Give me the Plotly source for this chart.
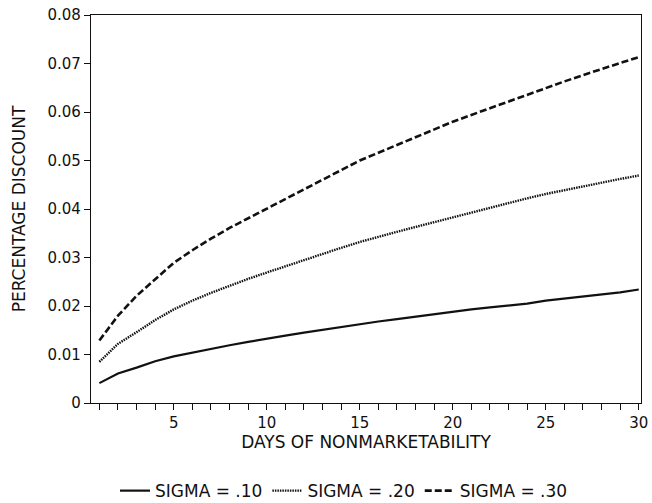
import plotly.graph_objects as go

days = list(range(1, 31))
sigma_10 = [0.0041, 0.0061, 0.0073, 0.0086, 0.0096, 0.0104, 0.0112, 0.0119, 0.0126, 0.0133,
            0.0139, 0.0145, 0.0151, 0.0157, 0.0163, 0.0168, 0.0173, 0.0178, 0.0183, 0.0189,
            0.0193, 0.0197, 0.0201, 0.0205, 0.0211, 0.0215, 0.0219, 0.0223, 0.0228, 0.0234]
sigma_20 = [0.0085, 0.0122, 0.0146, 0.0171, 0.0193, 0.0211, 0.0227, 0.0242, 0.0256, 0.0269,
            0.0282, 0.0295, 0.0308, 0.0320, 0.0332, 0.0343, 0.0353, 0.0363, 0.0373, 0.0383,
            0.0393, 0.0403, 0.0412, 0.0422, 0.0431, 0.0439, 0.0447, 0.0454, 0.0462, 0.0469]
sigma_30 = [0.0129, 0.0180, 0.0221, 0.0256, 0.0289, 0.0315, 0.0339, 0.0361, 0.0381, 0.0400,
            0.0421, 0.0441, 0.0461, 0.0481, 0.0500, 0.0516, 0.0532, 0.0548, 0.0564, 0.0580,
            0.0594, 0.0608, 0.0622, 0.0636, 0.0650, 0.0663, 0.0676, 0.0689, 0.0701, 0.0713]
series_names = ["SIGMA = .10", "SIGMA = .20", "SIGMA = .30"]
y_ticks = [0, 0.01, 0.02, 0.03, 0.04, 0.05, 0.06, 0.07, 0.08]
y_labels = ["0", "0.01", "0.02", "0.03", "0.04", "0.05", "0.06", "0.07", "0.08"]
x_labels = [str(d) if d % 5 == 0 else "" for d in days]

FONT = "DejaVu Sans"
INK = "#111111"
fig = go.Figure()
styles = [dict(dash="solid", width=2.2), dict(dash="1.5px,1px", width=2.4), dict(dash="7px,3px", width=2.6)]
for name, vals, st in zip(series_names, [sigma_10, sigma_20, sigma_30], styles):
    fig.add_trace(go.Scatter(x=days, y=vals, mode="lines", name=name,
                             line=dict(color=INK, **st)))

fig.update_layout(
    width=652, height=503,
    margin=dict(l=91, r=11, t=15, b=100, autoexpand=False),
    paper_bgcolor="white", plot_bgcolor="white",
    font=dict(family=FONT, size=15, color=INK),
    showlegend=True,
    legend=dict(orientation="h", x=0.46, xanchor="center", y=-0.227, yanchor="middle",
                font=dict(family=FONT, size=17), itemwidth=30, tracegroupgap=0),
)
fig.update_xaxes(range=[0.55, 30.12], tickmode="array", tickvals=days, ticktext=x_labels,
                 ticks="outside", ticklen=6, tickwidth=1.2, tickcolor=INK,
                 showline=True, linecolor=INK, linewidth=1.3, mirror=True,
                 showgrid=False, zeroline=False, tickfont=dict(size=15),
                 title=dict(text="DAYS OF NONMARKETABILITY", standoff=2, font=dict(size=17)))
fig.update_yaxes(range=[0, 0.08], tickmode="array", tickvals=y_ticks, ticktext=y_labels,
                 ticks="outside", ticklen=6, tickwidth=1.2, tickcolor=INK,
                 showline=True, linecolor=INK, linewidth=1.3, mirror=True,
                 showgrid=False, zeroline=False, tickfont=dict(size=15),
                 title=dict(text="PERCENTAGE DISCOUNT", standoff=17, font=dict(size=17)))
fig.write_html("out.html", config={"displayModeBar": False},
               post_script="document.body.style.margin='0px';document.body.style.overflow='hidden';")
